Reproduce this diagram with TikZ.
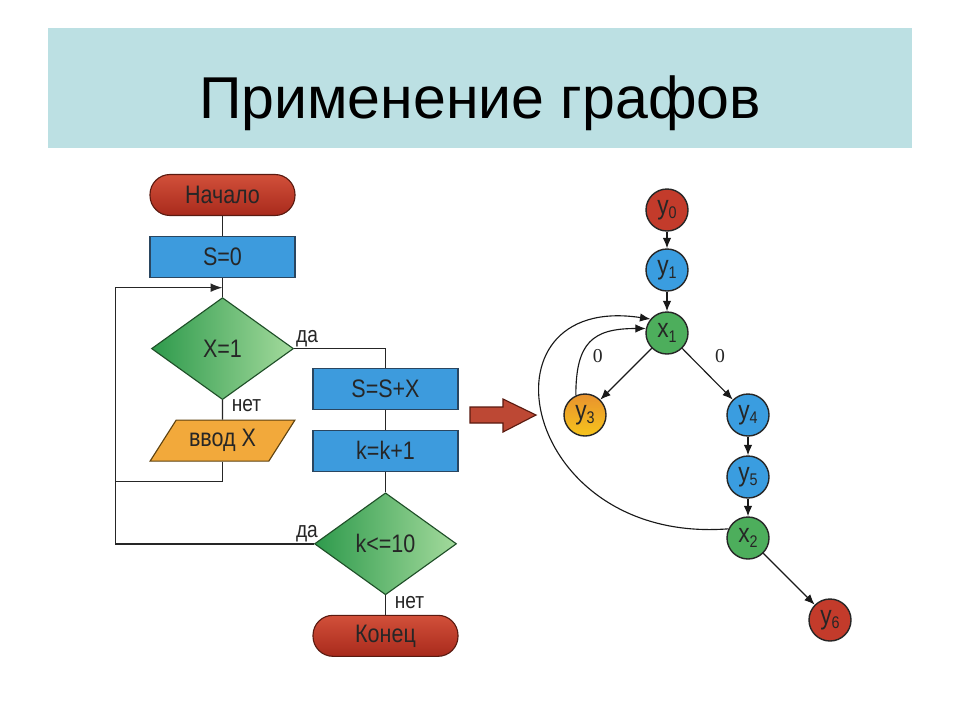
\documentclass[tikz,border=0pt]{standalone}
\usepackage{fontspec}
\setmainfont{Liberation Sans}
\newfontfamily\slimfont[FakeStretch=0.85]{Liberation Sans}
\newfontfamily\numfont{Liberation Serif}
\usetikzlibrary{positioning,shapes.geometric,arrows.meta}
\definecolor{band}{HTML}{BCE0E3}
\definecolor{redtop}{HTML}{D2503A}
\definecolor{redbot}{HTML}{A82A1C}
\definecolor{redline}{HTML}{5A1A10}
\definecolor{boxblue}{HTML}{3D9BDD}
\definecolor{blueline}{HTML}{2A4660}
\definecolor{greendark}{HTML}{2E9A4C}
\definecolor{greenlight}{HTML}{A3DA9C}
\definecolor{greenline}{HTML}{1F4F28}
\definecolor{inorange}{HTML}{F2A93B}
\definecolor{orangeline}{HTML}{5E4210}
\definecolor{dotgreen}{HTML}{4DAE5C}
\definecolor{dotblue}{HTML}{3A9DE0}
\definecolor{dotred}{HTML}{C33B2B}
\definecolor{dotyelltop}{HTML}{E8922E}
\definecolor{dotyellbot}{HTML}{F6C41C}
\definecolor{ink}{HTML}{262626}
\def\ix#1#2{#1\raisebox{-3pt}{\fontsize{12}{12}\selectfont #2}}

\begin{document}
\begin{tikzpicture}[node distance=1.5cm,on grid,auto,
  term/.style={rectangle,rounded corners=5mm,draw=redline,line width=0.8pt,top color=redtop,bottom color=redbot,
               minimum width=3.625cm,minimum height=1.025cm,text=ink,font={\slimfont\fontsize{18}{20}\selectfont}},
  act/.style={rectangle,draw=blueline,line width=0.8pt,fill=boxblue,minimum width=3.625cm,minimum height=1.025cm,
              text=ink,font={\slimfont\fontsize{18}{20}\selectfont}},
  test/.style={diamond,draw=greenline,line width=0.8pt,left color=greendark,right color=greenlight,inner sep=0pt,
               minimum width=3.55cm,minimum height=2.55cm,text=ink,font={\slimfont\fontsize{18}{20}\selectfont}},
  io/.style={trapezium,trapezium left angle=56,trapezium right angle=124,trapezium stretches=true,
             draw=orangeline,line width=0.8pt,fill=inorange,minimum width=3.65cm,minimum height=1.025cm,
             text=ink,font={\slimfont\fontsize{18}{20}\selectfont}},
  flow/.style={draw=ink,line width=1pt},
  answer/.style={text=ink,font={\slimfont\fontsize{16}{18}\selectfont}},
  vert/.style={circle,draw=black!85,line width=1pt,minimum size=1.05cm,inner sep=0pt,text=ink,
               font={\slimfont\fontsize{19}{20}\selectfont}},
  arr/.style={color=black!90,line width=0.8pt,-{Latex[length=2.6mm,width=2.1mm]}},
  zero/.style={text=ink,font={\numfont\fontsize{14}{16}\selectfont}}]

\useasboundingbox (0,0) rectangle (24,-18);
\fill[white] (0,0) rectangle (24,-18);

% title
\fill[band] (1.2,-0.7) rectangle (22.8,-3.7);
\node[anchor=base,font={\fontsize{42}{50}\selectfont}]	(head)	at (12,-2.95)	{Применение графов};

% flowchart
\node[term]								(start)		at (5.5625,-4.875)					{Начало};
\node[act]								(s0)		[below=1.54cm of start]				{S=0};
\node[test]								(dec1)		[below=2.3cm of s0]					{X=1};
\node[io]								(inp)		[below=2.3cm of dec1]				{ввод X};
\node[act]								(ssx)		[below right=1.0cm and 4.075cm of dec1]	{S=S+X};
\node[act]								(inc)		[below=1.55cm of ssx]				{k=k+1};
\node[test]								(dec2)		[below=2.33cm of inc]				{k<=10};
\node[term]								(stop)		[below=2.3cm of dec2]				{Конец};
\coordinate[below=0.25cm of s0.south]	(join);
\coordinate[left=2.675cm of join]		(lp);
\coordinate[below=0.5cm of inp.south]	(ret);

\draw[flow] (start) -- (s0);
\draw[flow] (s0) -- (dec1);
\draw[flow] (dec1.east) node[answer,anchor=south west,inner sep=1pt] {да} -| (ssx.north);
\draw[flow] (dec1.south) -- node[answer,right=1mm,pos=0.3] {нет} (inp.north);
\draw[flow] (inp.south) -- (ret) -- (ret -| lp);
\draw[flow] (ssx) -- (inc);
\draw[flow] (inc) -- (dec2);
\draw[flow,-{Latex[length=3mm,width=2.2mm]}] (dec2.west) node[answer,anchor=south east,inner sep=1pt,xshift=1.5mm] {да} -| (lp) -- (join);
\draw[flow] (dec2.south) -- node[answer,right=1mm,pos=0.35] {нет} (stop.north);

% big arrow
\draw[draw=redline,line width=0.8pt,fill=redtop!90!black] (11.75,-10.175) -- (12.575,-10.175) -- (12.575,-9.975) -- (13.4,-10.375)
  -- (12.575,-10.8) -- (12.575,-10.575) -- (11.75,-10.575) -- cycle;

% graph
\node[vert,fill=dotred]									(y0)	at (16.675,-5.25)				{\ix{y}{0}};
\node[vert,fill=dotblue]								(y1)	[below=1.5cm of y0]				{\ix{y}{1}};
\node[vert,fill=dotgreen]								(x1)	[below=1.575cm of y1]			{\ix{x}{1}};
\node[vert,top color=dotyelltop,bottom color=dotyellbot]	(y3)	[below left=2.05cm and 2.05cm of x1]	{\ix{y}{3}};
\node[vert,fill=dotblue]								(y4)	[below right=2.05cm and 2.025cm of x1]	{\ix{y}{4}};
\node[vert,fill=dotblue]								(y5)	[below=1.55cm of y4]			{\ix{y}{5}};
\node[vert,fill=dotgreen]								(x2)	[below=1.525cm of y5]			{\ix{x}{2}};
\node[vert,fill=dotred]									(y6)	[below right=2.05cm and 2.05cm of x2]	{\ix{y}{6}};

\path[arr]
(y0)	edge												(y1)
(y1)	edge												(x1)
(x1)	edge	node[zero,pos=0.15,left=0.9cm]		{0}		(y3)
		edge	node[zero,pos=0.15,right=0.5cm]		{0}		(y4)
(y4)	edge												(y5)
(y5)	edge												(x2)
(x2)	edge												(y6)
;
\draw[arr] (y3.115) to[out=90,in=180,looseness=1.4] (x1.168);
\draw[arr] (x2.155) .. controls +(-5.225,-0.4) and +(-4.45,0.675) .. (x1.140);
\end{tikzpicture}
\end{document}
